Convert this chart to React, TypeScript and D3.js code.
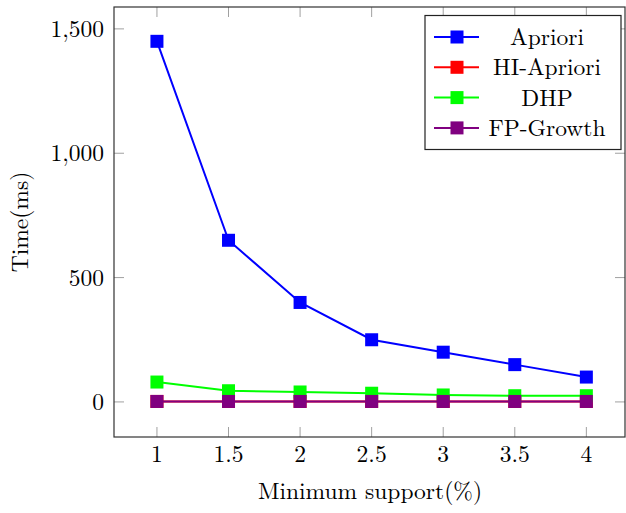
import React, { useRef, useEffect } from 'react';
import * as d3 from 'd3';

const supports = [1, 1.5, 2, 2.5, 3, 3.5, 4];
const seriesNames = ['Apriori', 'HI-Apriori', 'DHP', 'FP-Growth'];
const seriesColors = ['#0000ff', '#ff0000', '#00ff00', '#800080'];
const apriori = [1450, 650, 400, 250, 200, 150, 100];
const hiApriori = [2, 2, 2, 2, 2, 2, 2];
const dhp = [80, 45, 40, 35, 28, 25, 25];
const fpGrowth = [2, 2, 2, 2, 2, 2, 2];
const yTicks = [0, 500, 1000, 1500];

const FONT = '"Latin Modern Roman", "DejaVu Serif", serif';
const FS = 23.5;

const App = () => {
  const ref = useRef(null);

  useEffect(() => {
    if (!ref.current) return;
    const svg = d3.select(ref.current);
    svg.selectAll('*').remove();

    const width = 626;
    const height = 513;
    const left = 114, right = 625, top = 7, bottom = 437;

    const x = d3.scaleLinear().domain([0.7, 4.27]).range([left, right]);
    const y = d3.scaleLinear().domain([-141, 1588]).range([bottom, top]);

    svg.attr('width', width).attr('height', height);

    // ticks on all four sides, pointing inward
    const tickLen = 10;
    const tickColor = '#a0a0a0';
    supports.forEach(v => {
      svg.append('line').attr('x1', x(v)).attr('x2', x(v))
        .attr('y1', bottom).attr('y2', bottom - tickLen)
        .attr('stroke', tickColor).attr('stroke-width', 1);
      svg.append('line').attr('x1', x(v)).attr('x2', x(v))
        .attr('y1', top).attr('y2', top + tickLen)
        .attr('stroke', tickColor).attr('stroke-width', 1);
      svg.append('text').attr('x', x(v)).attr('y', bottom + 25)
        .attr('text-anchor', 'middle').attr('font-family', FONT)
        .attr('font-size', FS).text(String(v));
    });
    yTicks.forEach(v => {
      svg.append('line').attr('x1', left).attr('x2', left + tickLen)
        .attr('y1', y(v)).attr('y2', y(v))
        .attr('stroke', tickColor).attr('stroke-width', 1);
      svg.append('line').attr('x1', right).attr('x2', right - tickLen)
        .attr('y1', y(v)).attr('y2', y(v))
        .attr('stroke', tickColor).attr('stroke-width', 1);
      svg.append('text').attr('x', left - 10).attr('y', y(v) + 8)
        .attr('text-anchor', 'end').attr('font-family', FONT)
        .attr('font-size', FS).text(d3.format(',')(v));
    });

    const allSeries = [apriori, hiApriori, dhp, fpGrowth];
    const line = d3.line<number>()
      .x((d, i) => x(supports[i]))
      .y(d => y(d));

    allSeries.forEach((vals, k) => {
      svg.append('path').datum(vals)
        .attr('d', line)
        .attr('fill', 'none')
        .attr('stroke', seriesColors[k])
        .attr('stroke-width', 2);
      svg.selectAll(null).data(vals).enter().append('rect')
        .attr('x', (d, i) => x(supports[i]) - 6.5)
        .attr('y', d => y(d) - 6.5)
        .attr('width', 13).attr('height', 13)
        .attr('fill', seriesColors[k]);
    });

    // frame
    svg.append('rect').attr('x', left).attr('y', top)
      .attr('width', right - left).attr('height', bottom - top)
      .attr('fill', 'none').attr('stroke', '#333').attr('stroke-width', 1.2);

    // legend
    const lg = svg.append('g');
    lg.append('rect').attr('x', 425).attr('y', 15.5).attr('width', 196).attr('height', 134)
      .attr('fill', 'white').attr('stroke', '#222').attr('stroke-width', 1.2);
    seriesNames.forEach((name, k) => {
      const cy = 37 + k * 30.3;
      lg.append('line').attr('x1', 434).attr('x2', 479).attr('y1', cy).attr('y2', cy)
        .attr('stroke', seriesColors[k]).attr('stroke-width', 2);
      lg.append('rect').attr('x', 450.5).attr('y', cy - 6.5).attr('width', 13).attr('height', 13)
        .attr('fill', seriesColors[k]);
      lg.append('text').attr('x', 547).attr('y', cy + 8)
        .attr('text-anchor', 'middle').attr('font-family', FONT)
        .attr('font-size', FS).text(name);
    });

    // axis titles
    svg.append('text').attr('x', 370).attr('y', 499)
      .attr('text-anchor', 'middle').attr('font-family', FONT)
      .attr('font-size', FS).text('Minimum support(%)');
    svg.append('text')
      .attr('transform', `translate(28, ${(top + bottom) / 2}) rotate(-90)`)
      .attr('text-anchor', 'middle').attr('font-family', FONT)
      .attr('font-size', FS).text('Time(ms)');
  }, []);

  return (
    <div style={{ position: 'fixed', left: 0, top: 0, background: 'white' }}>
      <svg ref={ref} style={{ display: 'block' }} />
    </div>
  );
};

export default App;
